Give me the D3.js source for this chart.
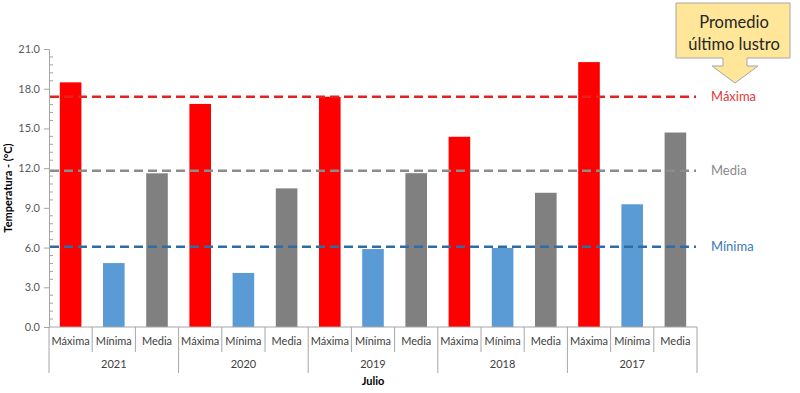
<!DOCTYPE html>
<html><head><meta charset="utf-8">
<script src="https://cdn.jsdelivr.net/npm/d3@7"></script>
<style>body{margin:0;background:#fff}svg{display:block;font-family:Lato,"Open Sans",sans-serif}</style>
</head><body><svg id="c" width="800" height="393"></svg>
<script>
const years = ["2021","2020","2019","2018","2017"];
const series = ["Máxima","Mínima","Media"];
const maxima = [18.48, 16.85, 17.39, 14.37, 20.01];
const minima = [4.83, 4.08, 5.89, 5.97, 9.27];
const media  = [11.61, 10.47, 11.62, 10.14, 14.69];
const avgNames = ["Máxima","Media","Mínima"];
const avgValues = [17.39, 11.81, 6.07];
const yTicks = [0,3,6,9,12,15,18,21];
const colors = {"Máxima":"#ff0000","Mínima":"#5b9bd5","Media":"#808080"};
const lineColors = {"Máxima":"#e52222","Media":"#8c8c8c","Mínima":"#2e6ca4"};
const labelColors = {"Máxima":"#e23a3a","Media":"#8a8a8a","Mínima":"#3a78b5"};

const svg = d3.select("#c");
const L=49, R=697, T=49, B=327;
const rows = [];
years.forEach((yr,i)=>{
  rows.push({year:yr, s:"Máxima", v:maxima[i]});
  rows.push({year:yr, s:"Mínima", v:minima[i]});
  rows.push({year:yr, s:"Media", v:media[i]});
});
const keys = rows.map((d,i)=>i);
const x = d3.scaleBand().domain(keys).range([L,R]).paddingInner(0).paddingOuter(0);
const y = d3.scaleLinear().domain([0,21]).range([B,T]);
const bw = x.bandwidth();

// bars
svg.append("g").selectAll("rect").data(rows).join("rect")
  .attr("x",(d,i)=>x(i)+bw*0.25).attr("width",bw*0.5)
  .attr("y",d=>y(d.v)).attr("height",d=>B-y(d.v))
  .attr("fill",d=>colors[d.s]);

// y axis
const ya = svg.append("g").attr("transform",`translate(${L},0)`)
  .call(d3.axisLeft(y).tickValues(yTicks).tickFormat(d3.format(".1f")).tickSize(5).tickPadding(4));
ya.select(".domain").attr("stroke","#a6a6a6");
ya.selectAll(".tick line").attr("stroke","#a6a6a6");
ya.selectAll(".tick text").attr("fill","#595959").style("font-size","11px").style("font-family","Lato,sans-serif");
const minor = d3.range(0,21.01,0.6).filter(v=>Math.abs(v/3-Math.round(v/3))>0.01);
svg.append("g").selectAll("line").data(minor).join("line")
  .attr("x1",L).attr("x2",L+4).attr("y1",d=>y(d)).attr("y2",d=>y(d))
  .attr("stroke","#a6a6a6");
svg.append("text").attr("transform",`translate(12,${(T+B)/2}) rotate(-90)`)
  .attr("text-anchor","middle").attr("fill","#000").style("font-size","11px").style("font-weight","bold")
  .text("Temperatura - (°C)");

// x axis
svg.append("line").attr("x1",L).attr("x2",R).attr("y1",B).attr("y2",B).attr("stroke","#a6a6a6");
const bounds = d3.range(0,rows.length+1);
svg.append("g").selectAll("line").data(bounds).join("line")
  .attr("x1",k=>k<rows.length?x(k):R).attr("x2",k=>k<rows.length?x(k):R)
  .attr("y1",B).attr("y2",k=>k%3===0?373:352)
  .attr("stroke","#a6a6a6");
svg.append("g").selectAll("text").data(rows).join("text")
  .attr("x",(d,i)=>x(i)+bw/2).attr("y",345).attr("text-anchor","middle")
  .attr("fill","#404040").style("font-size","11px").text(d=>d.s);
svg.append("g").selectAll("text").data(years).join("text")
  .attr("x",(d,i)=>x(i*3)+bw*1.5).attr("y",368).attr("text-anchor","middle")
  .attr("fill","#404040").style("font-size","11px").text(d=>d);
svg.append("text").attr("x",(L+R)/2).attr("y",385).attr("text-anchor","middle")
  .style("font-size","11px").style("font-weight","bold").attr("fill","#000").text("Julio");

// average lines
avgNames.forEach((n,i)=>{
  svg.append("line").attr("x1",L+1).attr("x2",696).attr("y1",y(avgValues[i])).attr("y2",y(avgValues[i]))
    .attr("stroke",lineColors[n]).attr("stroke-width",2.5).attr("stroke-dasharray","9,5");
  svg.append("text").attr("x",711).attr("y",y(avgValues[i])+4.5)
    .attr("fill",labelColors[n]).style("font-size","13px").text(n);
});

// callout
const g = svg.append("g");
g.append("path")
  .attr("d","M676,3 H790 V58 H747 V66 H758 L735,83 L712,66 H723 V58 H676 Z")
  .attr("fill","#ffe699").attr("stroke","#a6a6a6").attr("stroke-width",1);
g.append("text").attr("x",734).attr("y",28).attr("text-anchor","middle").style("font-size","16.5px").attr("fill","#262626").text("Promedio");
g.append("text").attr("x",734).attr("y",50).attr("text-anchor","middle").style("font-size","16.5px").attr("fill","#262626").text("último lustro");
</script></body></html>
